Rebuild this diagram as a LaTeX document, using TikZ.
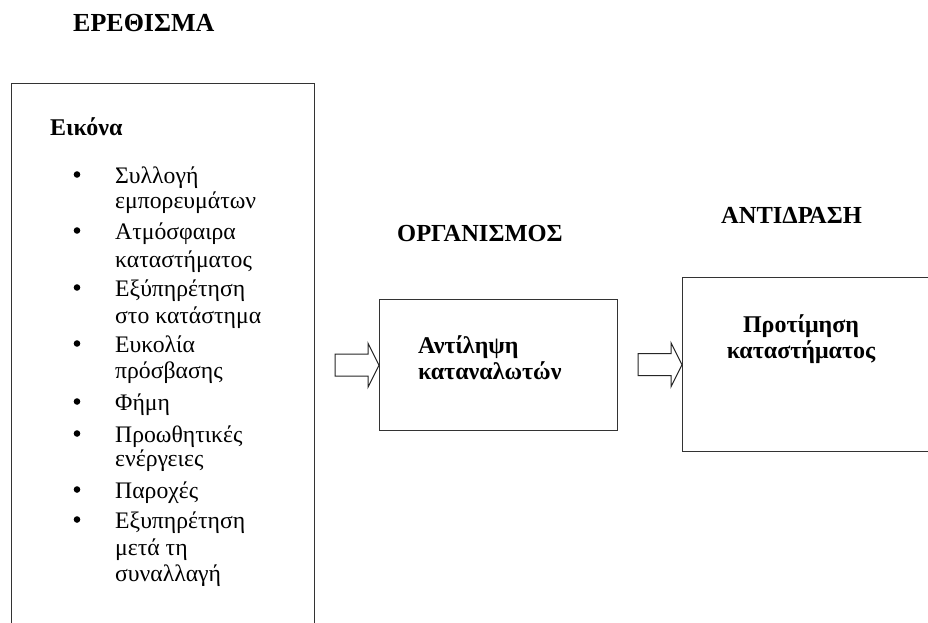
\documentclass[tikz,border=0pt]{standalone}
\usepackage{fontspec}
\setmainfont{Liberation Serif}
\usetikzlibrary{calc}
\begin{document}
\begin{tikzpicture}[x=1pt,y=-1pt,
  frame/.style={draw=black!80, line width=1.4pt, inner sep=0},
  blockarrow/.style={draw=black!85, line width=1pt, fill=white, line join=miter},
  title/.style={font=\fontsize{24.5}{28}\selectfont\bfseries, inner sep=0, anchor=base west},
  item/.style={font=\fontsize{23.7}{27}\selectfont, inner sep=0, anchor=base west},
  boldtext/.style={font=\fontsize{24}{27}\selectfont\bfseries, inner sep=0},
  bulletdot/.style={circle, fill=black, inner sep=0, minimum size=6.6pt}]
\fill[white] (0,0) rectangle (928,622);
\clip (0,0) rectangle (928,622);
% boxes
\node[frame, minimum width=303pt, minimum height=560pt, anchor=north west] (stim) at (11,83) {};
\node[frame, minimum width=238pt, minimum height=131pt, anchor=north west] (org) at (379,299) {};
\node[frame, minimum width=262pt, minimum height=174pt, anchor=north west] (resp) at (682,277) {};
% titles
\node[title, font=\fontsize{26}{30}\selectfont\bfseries] (t1) at (73,31) {ΕΡΕΘΙΣΜΑ};
\node[title] (t2) at (397,241) {ΟΡΓΑΝΙΣΜΟΣ};
\node[title] (t3) at (721,223) {ΑΝΤΙΔΡΑΣΗ};
% left box content
\node[boldtext, anchor=base west] (eik) at (50,135) {Εικόνα};
\foreach \n/\y/\t in {1/183/Συλλογή, 2/208/εμπορευμάτων, 3/239/Ατμόσφαιρα, 4/267/καταστήματος,
  5/296/Εξύπηρέτηση, 6/323/στο κατάστημα, 7/352/Ευκολία, 8/378/πρόσβασης, 9/410/Φήμη,
  10/442/Προωθητικές, 11/466/ενέργειες, 12/498/Παροχές, 13/528/Εξυπηρέτηση, 14/555/μετά τη, 15/581/συναλλαγή}
  \node[item] (line\n) at (115,\y) {\t};
\foreach \n/\y in {1/183, 3/239, 5/296, 7/352, 9/410, 10/442, 12/498, 13/528}
  \node[bulletdot] (dot\n) at (77,\y-8.5) {};
% middle box content
\node[boldtext, anchor=base west] (o1) at (418,353) {Αντίληψη};
\node[boldtext, anchor=base west] (o2) at (418,379) {καταναλωτών};
% right box content
\node[boldtext, anchor=base] (r1) at (801,332) {Προτίμηση};
\node[boldtext, anchor=base] (r2) at (801,358) {καταστήματος};
% block arrows
\draw[blockarrow] ($(org.west)+(-44,-11)$) -- ($(org.west)+(-11,-11)$) -- ($(org.west)+(-11,-22)$)
  -- (org.west) -- ($(org.west)+(-11,22)$) -- ($(org.west)+(-11,11)$) -- ($(org.west)+(-44,11)$) -- cycle;
\draw[blockarrow] ($(resp.west)+(-44,-11)$) -- ($(resp.west)+(-11,-11)$) -- ($(resp.west)+(-11,-22)$)
  -- (resp.west) -- ($(resp.west)+(-11,22)$) -- ($(resp.west)+(-11,11)$) -- ($(resp.west)+(-44,11)$) -- cycle;
\end{tikzpicture}
\end{document}
